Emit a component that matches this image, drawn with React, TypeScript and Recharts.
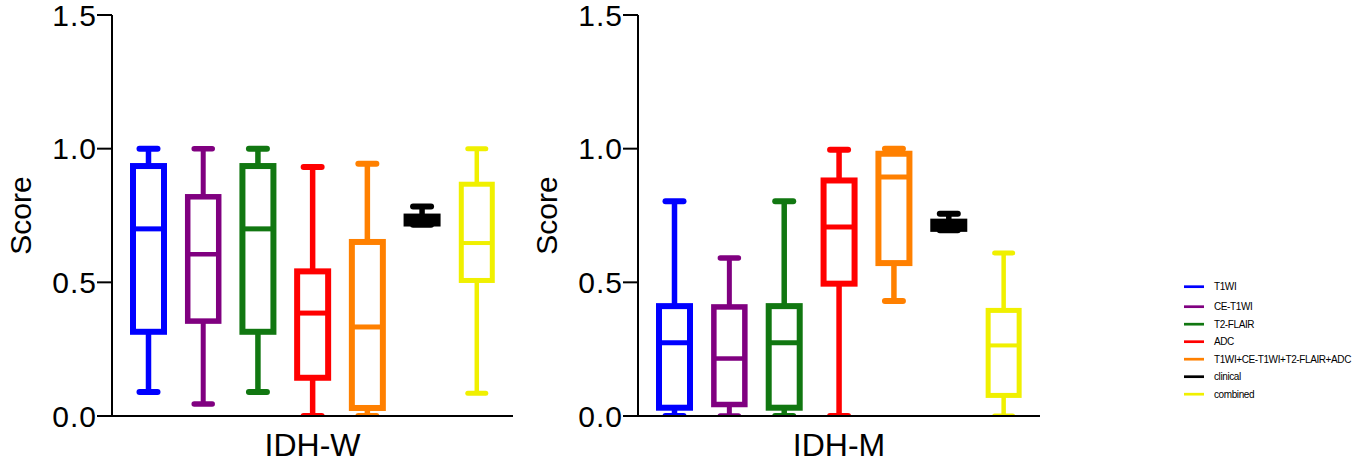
import React from "react";
import { ComposedChart, Bar, XAxis, YAxis, Label, Legend } from "recharts";

const FONT = "'Liberation Sans', Arial, Helvetica, sans-serif";

// categories (box series)
const categories = [
  "T1WI",
  "CE-T1WI",
  "T2-FLAIR",
  "ADC",
  "T1WI+CE-T1WI+T2-FLAIR+ADC",
  "clinical",
  "combined",
];
const seriesColors = ["#0000FF", "#800080", "#117711", "#FF0000", "#FF8000", "#000000", "#F0F000"];
const strokeWidths = [6, 5.5, 6, 6, 6, 6, 5];

const yTicks = [0, 0.5, 1.0, 1.5];

// IDH-W panel values
const idhWMin = [0.09, 0.045, 0.09, 0.0, 0.0, 0.715, 0.085];
const idhWQ1 = [0.315, 0.355, 0.315, 0.143, 0.03, 0.72, 0.507];
const idhWMedian = [0.7, 0.605, 0.7, 0.385, 0.333, 0.735, 0.647];
const idhWQ3 = [0.935, 0.82, 0.935, 0.541, 0.651, 0.746, 0.867];
const idhWMax = [1.0, 1.0, 1.0, 0.931, 0.944, 0.784, 1.0];

// IDH-M panel values
const idhMMin = [0.0, 0.0, 0.0, 0.0, 0.43, 0.695, 0.0];
const idhMQ1 = [0.031, 0.043, 0.031, 0.495, 0.572, 0.7, 0.077];
const idhMMedian = [0.274, 0.215, 0.274, 0.707, 0.894, 0.714, 0.264];
const idhMQ3 = [0.411, 0.408, 0.411, 0.881, 0.981, 0.727, 0.395];
const idhMMax = [0.803, 0.591, 0.803, 0.996, 1.0, 0.757, 0.61];

function buildRows(mins: number[], q1s: number[], meds: number[], q3s: number[], maxs: number[]) {
  return categories.map((name, i) => ({
    name,
    range: [mins[i], maxs[i]],
    min: mins[i],
    q1: q1s[i],
    median: meds[i],
    q3: q3s[i],
    max: maxs[i],
    color: seriesColors[i],
    sw: strokeWidths[i],
  }));
}

const idhWRows = buildRows(idhWMin, idhWQ1, idhWMedian, idhWQ3, idhWMax);
const idhMRows = buildRows(idhMMin, idhMQ1, idhMMedian, idhMQ3, idhMMax);

const BoxShape = (props: any) => {
  const { x, y, width, height } = props;
  const p = props.payload ?? props;
  if (x == null || y == null || !p) return null;
  const top = Math.min(y, y + height);
  const h = Math.abs(height);
  const span = p.max - p.min;
  const k = span > 0 ? h / span : 0;
  const py = (v: number) => top + (p.max - v) * k;
  const cx = x + width / 2;
  const capHalf = 9;
  const c = p.color;
  const sw = p.sw;
  return (
    <g>
      <line x1={cx} x2={cx} y1={py(p.max)} y2={py(p.q3)} stroke={c} strokeWidth={sw - 0.5} />
      <line x1={cx} x2={cx} y1={py(p.q1)} y2={py(p.min)} stroke={c} strokeWidth={sw - 0.5} />
      <line x1={cx - capHalf} x2={cx + capHalf} y1={py(p.max)} y2={py(p.max)} stroke={c} strokeWidth={sw} strokeLinecap="round" />
      <line x1={cx - capHalf} x2={cx + capHalf} y1={py(p.min)} y2={py(p.min)} stroke={c} strokeWidth={sw} strokeLinecap="round" />
      <rect x={x} y={py(p.q3)} width={width} height={Math.max(0, py(p.q1) - py(p.q3))} fill="none" stroke={c} strokeWidth={sw} />
      <line x1={x} x2={x + width} y1={py(p.median)} y2={py(p.median)} stroke={c} strokeWidth={sw - 1} />
    </g>
  );
};

const ScoreLabel = (props: any) => {
  const vb = props.viewBox || { x: 0, y: 15, width: 112, height: 401 };
  const cx = vb.x + 20;
  const cy = vb.y + vb.height / 2;
  return (
    <text
      x={cx}
      y={cy}
      transform={`rotate(-90 ${cx} ${cy})`}
      textAnchor="middle"
      dominantBaseline="central"
      style={{ fontSize: 30, fill: "#000", fontFamily: FONT }}
    >
      Score
    </text>
  );
};

const legendRowY = (i: number) => (i === 0 ? 10.7 : 30.7 + (i - 1) * 17.5);

const LegendContent = () => (
  <svg width={200} height={130} style={{ overflow: "visible" }}>
    {categories.map((name, i) => (
      <g key={name}>
        <line x1={0} x2={20} y1={legendRowY(i)} y2={legendRowY(i)} stroke={seriesColors[i]} strokeWidth={2.7} />
        <text
          x={30}
          y={legendRowY(i)}
          dominantBaseline="central"
          style={{ fontSize: 10, fill: "#000", fontFamily: FONT, letterSpacing: -0.4 }}
        >
          {name}
        </text>
      </g>
    ))}
  </svg>
);

function Panel({ data, label, width, marginRight, withLegend }: any) {
  return (
    <ComposedChart
      width={width}
      height={465}
      data={data}
      margin={{ top: 15, right: marginRight, bottom: 9, left: 0 }}
    >
      <XAxis
        dataKey="name"
        type="category"
        height={40}
        tick={false}
        tickLine={false}
        axisLine={{ stroke: "#000", strokeWidth: 2 }}
        padding={{ left: 9, right: 9 }}
      >
        <Label
          value={label}
          position="insideTop"
          offset={17}
          style={{ fontSize: 32, fill: "#000", fontFamily: FONT }}
        />
      </XAxis>
      <YAxis
        width={112}
        type="number"
        domain={[0, 1.5]}
        ticks={yTicks}
        interval={0}
        allowDataOverflow
        tickFormatter={(v: number) => v.toFixed(1)}
        tickSize={15}
        tickMargin={0}
        axisLine={{ stroke: "#000", strokeWidth: 2 }}
        tickLine={{ stroke: "#000", strokeWidth: 2 }}
        tick={{ fontSize: 30, fill: "#000", fontFamily: FONT, letterSpacing: 1 }}
      >
        <Label content={ScoreLabel} />
      </YAxis>
      <Bar dataKey="range" barSize={31} shape={BoxShape} isAnimationActive={false} />
      {withLegend ? (
        <Legend
          layout="horizontal"
          verticalAlign="middle"
          align="center"
          content={LegendContent}
          wrapperStyle={{ position: "absolute", left: 658, top: 276, width: 200, height: 130 }}
        />
      ) : null}
    </ComposedChart>
  );
}

export default function App() {
  return (
    <div style={{ position: "absolute", left: 0, top: 0, width: 1358, height: 465, background: "#fff" }}>
      <div style={{ position: "absolute", left: 0, top: 0 }}>
        <Panel data={idhWRows} label="IDH-W" width={526} marginRight={13} withLegend={false} />
      </div>
      <div style={{ position: "absolute", left: 526, top: 0 }}>
        <Panel data={idhMRows} label="IDH-M" width={832} marginRight={318} withLegend={true} />
      </div>
    </div>
  );
}
